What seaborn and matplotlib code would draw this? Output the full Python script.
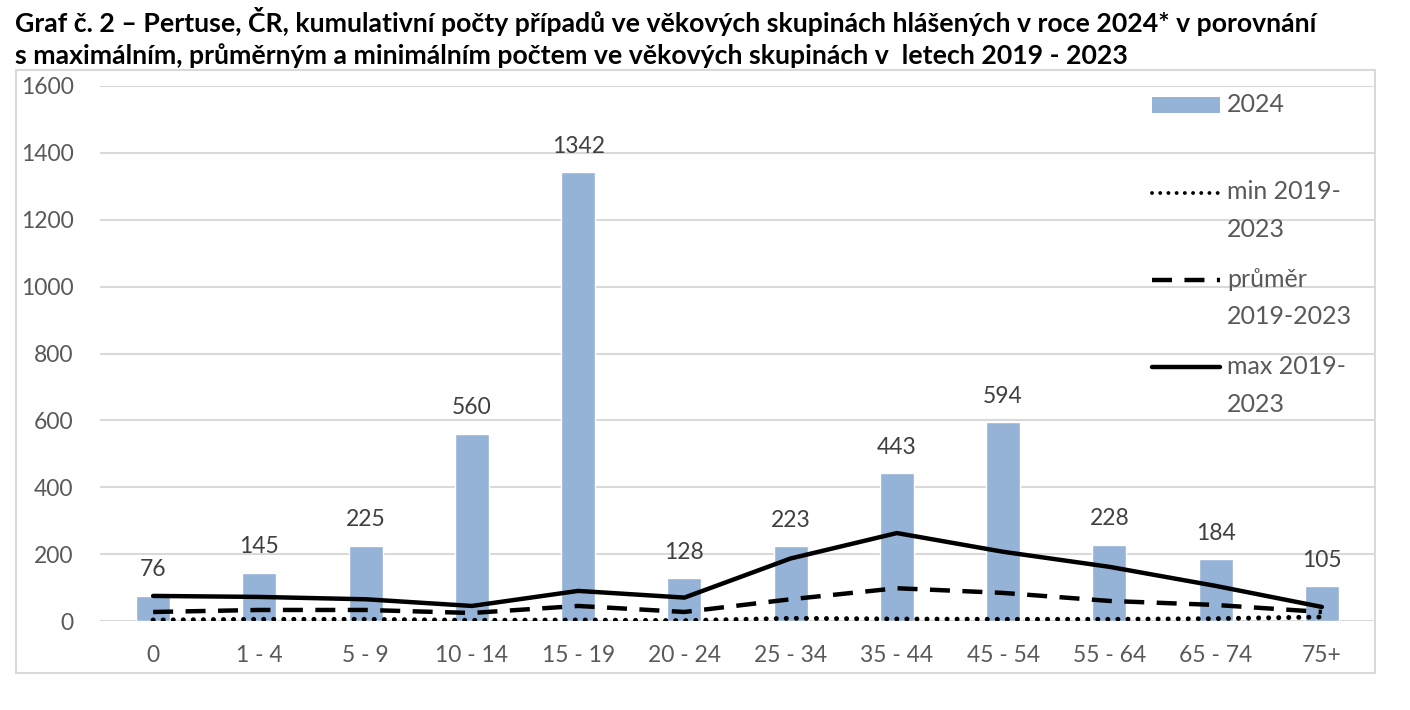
import numpy as np
import pandas as pd
import matplotlib
matplotlib.use("Agg")
import matplotlib.pyplot as plt
from matplotlib.lines import Line2D
from matplotlib.patches import Patch, Rectangle
from matplotlib.legend_handler import HandlerLine2D, HandlerPatch
import seaborn as sns

# ── Data ───────────────────────────────────────────────────────────────────────
age_groups = ["0", "1 - 4", "5 - 9", "10 - 14", "15 - 19", "20 - 24",
              "25 - 34", "35 - 44", "45 - 54", "55 - 64", "65 - 74", "75+"]
cases_2024 = [76, 145, 225, 560, 1342, 128, 223, 443, 594, 228, 184, 105]
min_1923 = [3, 5, 5, 2, 3, 1, 8, 6, 5, 5, 7, 12]
mean_1923 = [27, 33, 33, 24, 45, 27, 65, 98, 84, 60, 48, 27]
max_1923 = [75, 72, 65, 45, 90, 70, 187, 263, 207, 162, 105, 42]

legend_labels = ["2024\n", "min 2019-\n2023", "průměr\n2019-2023", "max 2019-\n2023"]

TITLE = ("Graf č. 2 – Pertuse, ČR, kumulativní počty případů ve věkových skupinách hlášených v roce 2024* v porovnání\n"
         "s maximálním, průměrným a minimálním počtem ve věkových skupinách v  letech 2019 - 2023")

BAR_COLOR = "#95B3D7"
GRID_COLOR = "#D9D9D9"
TEXT_COLOR = "#595959"
DOT = (0, (0.01, 2.0))
DASH = (0, (4.5, 2.8))


# legend handles drawn at the first line of a two-line label
class ShiftLine(HandlerLine2D):
    def __init__(self, dy, **kw):
        super().__init__(**kw)
        self.dy = dy

    def create_artists(self, legend, orig_handle, xdescent, ydescent,
                       width, height, fontsize, trans):
        return super().create_artists(legend, orig_handle, xdescent,
                                      ydescent - 2 * self.dy, width, height,
                                      fontsize, trans)


class ShiftPatch(HandlerPatch):
    def __init__(self, dy, **kw):
        super().__init__(**kw)
        self.dy = dy

    def create_artists(self, legend, orig_handle, xdescent, ydescent,
                       width, height, fontsize, trans):
        return super().create_artists(legend, orig_handle, xdescent,
                                      ydescent - self.dy, width, height,
                                      fontsize, trans)


df = pd.DataFrame({
    "age": age_groups,
    "y2024": cases_2024,
    "min": min_1923,
    "mean": mean_1923,
    "max": max_1923,
})

sns.set_theme(style="white")
plt.rcParams["font.family"] = ["Lato", "DejaVu Sans"]

fig = plt.figure(figsize=(14.1, 7.1), dpi=100)
W, H = 1410, 710
ax = fig.add_axes([100 / W, 1 - 621 / H, 1275 / W, 535 / H])

# chart area border
fig.patches.append(Rectangle((16 / W, 1 - 673 / H), 1359 / W, 603 / H,
                             transform=fig.transFigure, fill=False,
                             edgecolor=GRID_COLOR, linewidth=1.5, zorder=0))

sns.barplot(data=df, x="age", y="y2024", color=BAR_COLOR, width=0.32,
            saturation=1, ax=ax, zorder=2)
ax.bar_label(ax.containers[0], labels=[str(v) for v in cases_2024],
             padding=11, fontsize=16.5, color="#404040")

x = np.arange(len(age_groups))
sns.lineplot(x=x, y=df["min"], ax=ax, color="black", linewidth=3.6,
             linestyle=DOT, dash_capstyle="round", zorder=3)
sns.lineplot(x=x, y=df["mean"], ax=ax, color="black", linewidth=3.2,
             linestyle=DASH, zorder=3)
sns.lineplot(x=x, y=df["max"], ax=ax, color="black", linewidth=3.2,
             zorder=3)

ax.set_xlim(-0.5, 11.5)
ax.set_ylim(0, 1600)
ax.set_yticks(range(0, 1601, 200))
ax.set_xticks(x)
ax.set_xticklabels(age_groups)
ax.set_xlabel("")
ax.set_ylabel("")
ax.yaxis.grid(True, color=GRID_COLOR, linewidth=1.5)
ax.set_axisbelow(True)
for s in ax.spines.values():
    s.set_visible(False)
ax.tick_params(axis="both", length=0, labelsize=16.5, labelcolor=TEXT_COLOR)
ax.tick_params(axis="x", pad=17)
ax.tick_params(axis="y", pad=19)

# legend
h_bar = Patch(facecolor=BAR_COLOR, edgecolor="none")
h_min = Line2D([], [], color="black", linewidth=2.8, linestyle=(0, (0.01, 2.1)),
               dash_capstyle="round")
h_mean = Line2D([], [], color="black", linewidth=3.2, linestyle=DASH)
h_max = Line2D([], [], color="black", linewidth=3.2)
shift = 13.7
leg = ax.legend([h_bar, h_min, h_mean, h_max], legend_labels,
                loc="upper left", bbox_to_anchor=(1152 / W, 1 - 93 / H),
                bbox_transform=fig.transFigure, frameon=False, fontsize=18,
                labelcolor=TEXT_COLOR, handlelength=2.7, handleheight=0.65,
                handletextpad=0.3, labelspacing=1.06, borderpad=0,
                borderaxespad=0,
                handler_map={h_bar: ShiftPatch(shift), h_min: ShiftLine(shift),
                             h_mean: ShiftLine(shift), h_max: ShiftLine(shift)})
for t in leg.get_texts():
    t.set_linespacing(1.78)

fig.text(15 / W, 1 - 7 / H, TITLE, ha="left", va="top", fontsize=19.2,
         fontweight="bold", color="black", linespacing=1.35)

fig.savefig("out.png", dpi=100, facecolor="white")
